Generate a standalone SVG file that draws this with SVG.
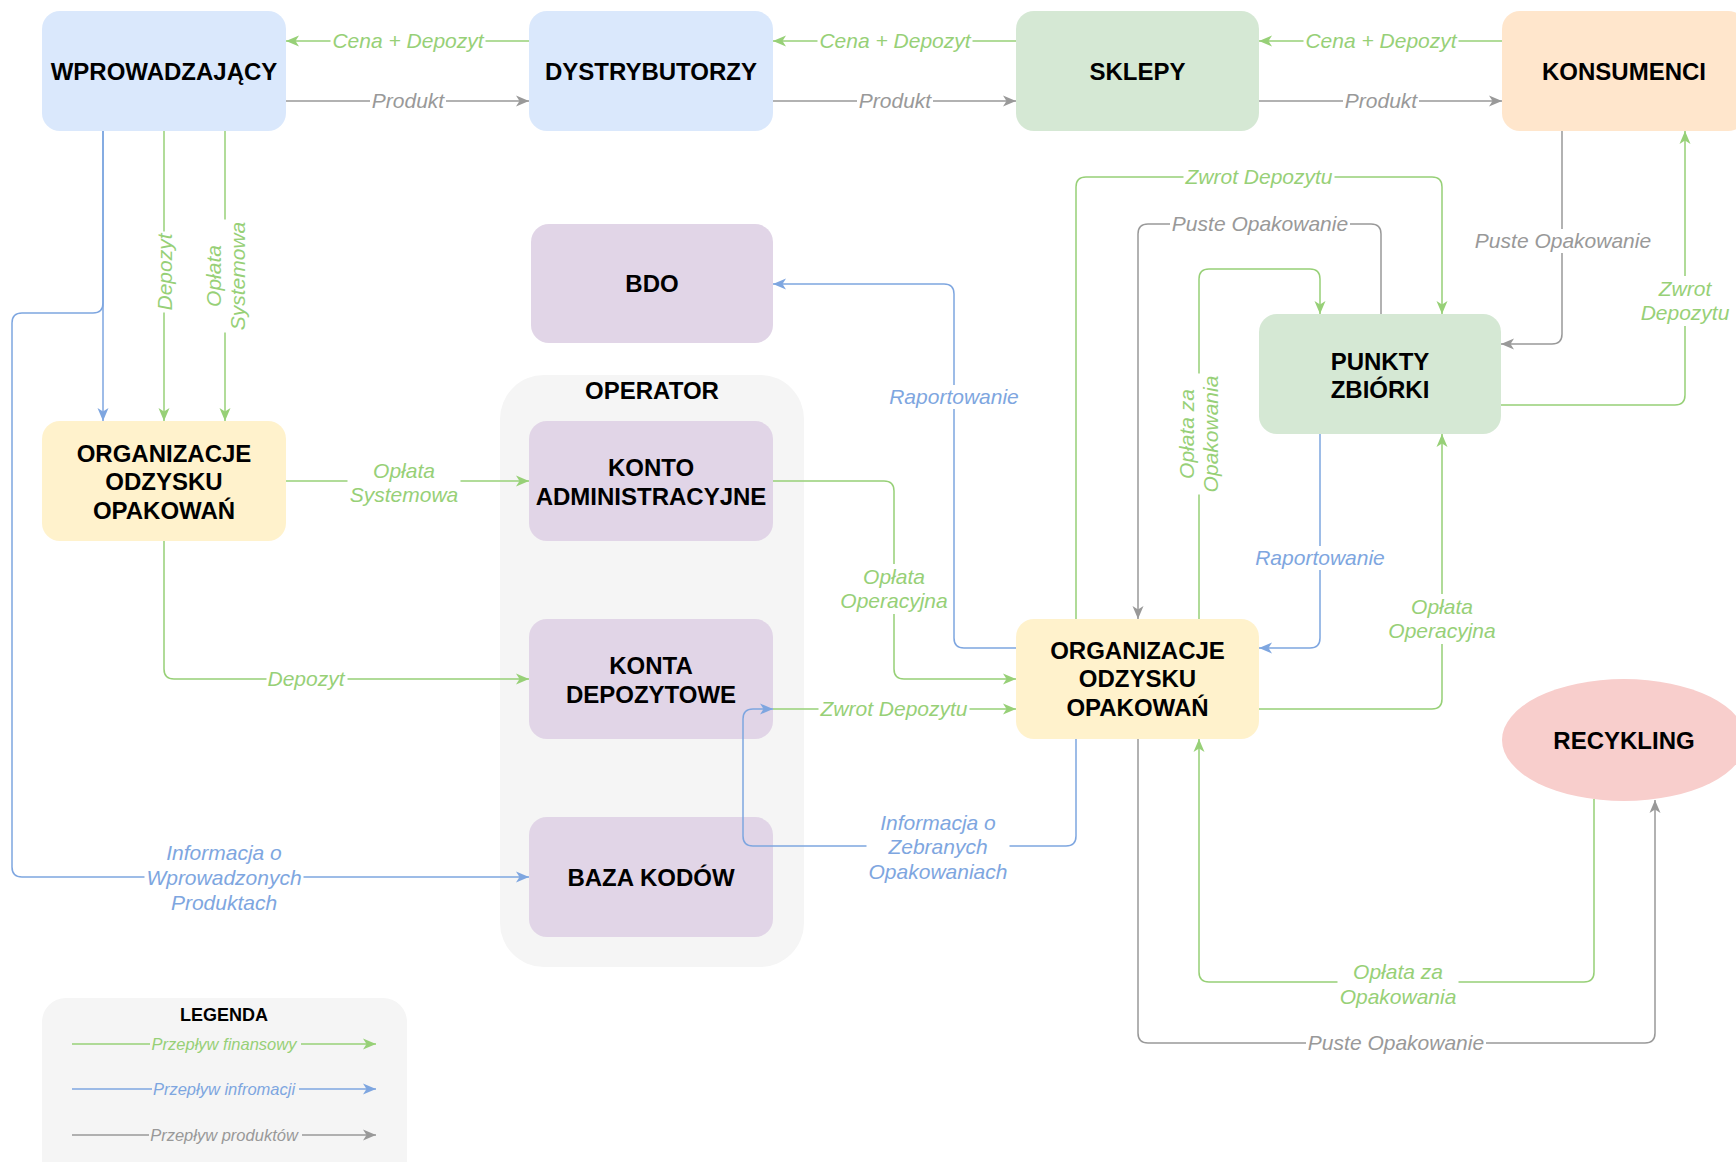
<svg xmlns="http://www.w3.org/2000/svg" width="1736" height="1162" viewBox="0 0 1736 1162">
<style>
.nt{font-family:"Liberation Sans",Arial,Helvetica,sans-serif;font-weight:bold;font-size:24px;fill:#000;text-anchor:middle}
.lt{font-family:"Liberation Sans",Arial,Helvetica,sans-serif;font-style:italic;font-size:21px;text-anchor:middle}
.gt{fill:#97D077}.bt{fill:#7EA6E0}.kt{fill:#999999}
.e{fill:none;stroke-width:1.5}
.ge{stroke:#97D077}.be{stroke:#7EA6E0}.ke{stroke:#999999}
.bg{fill:#ffffff}
.blue{fill:#dae8fc}.green{fill:#d5e8d4}.orange{fill:#ffe6cc}.yellow{fill:#fff2cc}.purple{fill:#e1d5e7}.red{fill:#f8cecc}.grey{fill:#f5f5f5}
.leg{font-family:"Liberation Sans",Arial,Helvetica,sans-serif;font-style:italic;font-size:16.5px;text-anchor:middle}
</style>
<defs>
<marker id="ag" viewBox="0 0 14 12" refX="13" refY="6" markerWidth="14" markerHeight="12" markerUnits="userSpaceOnUse" orient="auto"><path d="M0,0.5 L13,6 L0,11.5 L3.5,6 Z" fill="#97D077"/></marker>
<marker id="ab" viewBox="0 0 14 12" refX="13" refY="6" markerWidth="14" markerHeight="12" markerUnits="userSpaceOnUse" orient="auto"><path d="M0,0.5 L13,6 L0,11.5 L3.5,6 Z" fill="#7EA6E0"/></marker>
<marker id="ak" viewBox="0 0 14 12" refX="13" refY="6" markerWidth="14" markerHeight="12" markerUnits="userSpaceOnUse" orient="auto"><path d="M0,0.5 L13,6 L0,11.5 L3.5,6 Z" fill="#999999"/></marker>
</defs>
<rect width="1736" height="1162" fill="#ffffff"/>

<g id="operator">
<rect class="grey" x="500" y="375" width="304" height="592" rx="44"/>
<text class="nt" x="652" y="398.5">OPERATOR</text>
</g>

<g id="legend">
<rect class="grey" x="42" y="998" width="365" height="190" rx="24"/>
<text class="nt" style="font-size:18px" x="224" y="1020.5">LEGENDA</text>
<path class="e ge" d="M72,1044 H376" marker-end="url(#ag)"/>
<path class="e be" d="M72,1089 H376" marker-end="url(#ab)"/>
<path class="e ke" d="M72,1135 H376" marker-end="url(#ak)"/>
<rect class="grey" x="150" y="1034" width="151" height="20"/>
<rect class="grey" x="152" y="1079" width="147" height="20"/>
<rect class="grey" x="149" y="1125" width="153" height="20"/>
<text class="leg gt" x="224" y="1050">Przepływ finansowy</text>
<text class="leg bt" x="224" y="1095">Przepływ infromacji</text>
<text class="leg kt" x="224" y="1141">Przepływ produktów</text>
</g>

<g id="wprowadzajacy"><rect class="blue" x="42" y="11" width="244" height="120" rx="18"/><text class="nt" x="164" y="79.5">WPROWADZAJĄCY</text></g>
<g id="dystrybutorzy"><rect class="blue" x="529" y="11" width="244" height="120" rx="18"/><text class="nt" x="651" y="79.5">DYSTRYBUTORZY</text></g>
<g id="sklepy"><rect class="green" x="1016" y="11" width="243" height="120" rx="18"/><text class="nt" x="1137.5" y="79.5">SKLEPY</text></g>
<g id="konsumenci"><rect class="orange" x="1502" y="11" width="244" height="120" rx="18"/><text class="nt" x="1624" y="79.5">KONSUMENCI</text></g>
<g id="bdo"><rect class="purple" x="531" y="224" width="242" height="119" rx="18"/><text class="nt" x="652" y="292">BDO</text></g>
<g id="konto-administracyjne"><rect class="purple" x="529" y="421" width="244" height="120" rx="18"/><text class="nt" x="651" y="475.5">KONTO</text><text class="nt" x="651" y="504.5">ADMINISTRACYJNE</text></g>
<g id="konta-depozytowe"><rect class="purple" x="529" y="619" width="244" height="120" rx="18"/><text class="nt" x="651" y="673.5">KONTA</text><text class="nt" x="651" y="702.5">DEPOZYTOWE</text></g>
<g id="baza-kodow"><rect class="purple" x="529" y="817" width="244" height="120" rx="18"/><text class="nt" x="651" y="885.5">BAZA KODÓW</text></g>
<g id="organizacje-lewe"><rect class="yellow" x="42" y="421" width="244" height="120" rx="18"/><text class="nt" x="164" y="461.5">ORGANIZACJE</text><text class="nt" x="164" y="490">ODZYSKU</text><text class="nt" x="164" y="518.5">OPAKOWAŃ</text></g>
<g id="organizacje-prawe"><rect class="yellow" x="1016" y="619" width="243" height="120" rx="18"/><text class="nt" x="1137.5" y="658.5">ORGANIZACJE</text><text class="nt" x="1137.5" y="687">ODZYSKU</text><text class="nt" x="1137.5" y="715.5">OPAKOWAŃ</text></g>
<g id="punkty-zbiorki"><rect class="green" x="1259" y="314" width="242" height="120" rx="18"/><text class="nt" x="1380" y="369.5">PUNKTY</text><text class="nt" x="1380" y="397.5">ZBIÓRKI</text></g>
<g id="recykling"><ellipse class="red" cx="1624" cy="740" rx="122" ry="61"/><text class="nt" x="1624" y="748.5">RECYKLING</text></g>

<g id="connectors">
<path class="e ge" d="M529,41 H286" marker-end="url(#ag)"/>
<path class="e ke" d="M286,101 H529" marker-end="url(#ak)"/>
<path class="e ge" d="M1016,41 H773" marker-end="url(#ag)"/>
<path class="e ke" d="M773,101 H1016" marker-end="url(#ak)"/>
<path class="e ge" d="M1502,41 H1259" marker-end="url(#ag)"/>
<path class="e ke" d="M1259,101 H1502" marker-end="url(#ak)"/>
<path class="e be" d="M103,131 V421" marker-end="url(#ab)"/>
<path class="e be" d="M103,131 V303 Q103,313 93,313 H22 Q12,313 12,323 V867 Q12,877 22,877 H529" marker-end="url(#ab)"/>
<path class="e ge" d="M164,131 V421" marker-end="url(#ag)"/>
<path class="e ge" d="M225,131 V421" marker-end="url(#ag)"/>
<path class="e ge" d="M286,481 H529" marker-end="url(#ag)"/>
<path class="e ge" d="M164,541 V669 Q164,679 174,679 H529" marker-end="url(#ag)"/>
<path class="e ge" d="M773,481 H884 Q894,481 894,491 V669 Q894,679 904,679 H1016" marker-end="url(#ag)"/>
<path class="e ge" d="M773,709 H1016" marker-end="url(#ag)"/>
<path class="e be" d="M1076,739 V836 Q1076,846 1066,846 H753 Q743,846 743,836 V719 Q743,709 753,709 H773" marker-end="url(#ab)"/>
<path class="e be" d="M1016,648 H964 Q954,648 954,638 V294 Q954,284 944,284 H773" marker-end="url(#ab)"/>
<path class="e ke" d="M1562,131 V334 Q1562,344 1552,344 H1501" marker-end="url(#ak)"/>
<path class="e ge" d="M1501,405 H1675 Q1685,405 1685,395 V131" marker-end="url(#ag)"/>
<path class="e ge" d="M1076,619 V187 Q1076,177 1086,177 H1432 Q1442,177 1442,187 V314" marker-end="url(#ag)"/>
<path class="e ke" d="M1381,314 V234 Q1381,224 1371,224 H1148 Q1138,224 1138,234 V619" marker-end="url(#ak)"/>
<path class="e ge" d="M1199,619 V279 Q1199,269 1209,269 H1310 Q1320,269 1320,279 V314" marker-end="url(#ag)"/>
<path class="e be" d="M1320,434 V638 Q1320,648 1310,648 H1259" marker-end="url(#ab)"/>
<path class="e ge" d="M1259,709 H1432 Q1442,709 1442,699 V434" marker-end="url(#ag)"/>
<path class="e ge" d="M1594,799 V972 Q1594,982 1584,982 H1209 Q1199,982 1199,972 V739" marker-end="url(#ag)"/>
<path class="e ke" d="M1138,739 V1033 Q1138,1043 1148,1043 H1645 Q1655,1043 1655,1033 V800" marker-end="url(#ak)"/>
</g>

<g id="connector-labels">
<rect class="bg" x="330.5" y="29" width="155" height="24"/><text class="lt gt" x="408" y="48">Cena + Depozyt</text>
<rect class="bg" x="370" y="89" width="76" height="24"/><text class="lt kt" x="408" y="108">Produkt</text>
<rect class="bg" x="817.5" y="29" width="155" height="24"/><text class="lt gt" x="895" y="48">Cena + Depozyt</text>
<rect class="bg" x="857" y="89" width="76" height="24"/><text class="lt kt" x="895" y="108">Produkt</text>
<rect class="bg" x="1303.5" y="29" width="155" height="24"/><text class="lt gt" x="1381" y="48">Cena + Depozyt</text>
<rect class="bg" x="1343" y="89" width="76" height="24"/><text class="lt kt" x="1381" y="108">Produkt</text>
<rect class="bg" x="144.5" y="840" width="159" height="76"/>
<text class="lt bt" x="224" y="860">Informacja o</text>
<text class="lt bt" x="224" y="885">Wprowadzonych</text>
<text class="lt bt" x="224" y="910">Produktach</text>
<g transform="rotate(-90 165 272)"><rect class="bg" x="124.5" y="260" width="81" height="24"/><text class="lt gt" x="165" y="279">Depozyt</text></g>
<g transform="rotate(-90 226 276)"><rect class="bg" x="169.5" y="251" width="113" height="50"/><text class="lt gt" x="226" y="271">Opłata</text><text class="lt gt" x="226" y="295">Systemowa</text></g>
<rect class="bg" x="347.5" y="458" width="113" height="50"/><text class="lt gt" x="404" y="478">Opłata</text><text class="lt gt" x="404" y="502">Systemowa</text>
<rect class="bg" x="266.5" y="667" width="81" height="24"/><text class="lt gt" x="306" y="686">Depozyt</text>
<rect class="bg" x="838.5" y="564" width="111" height="50"/><text class="lt gt" x="894" y="584">Opłata</text><text class="lt gt" x="894" y="608">Operacyjna</text>
<rect class="bg" x="818.5" y="697" width="151" height="24"/><text class="lt gt" x="894" y="716">Zwrot Depozytu</text>
<rect class="bg" x="866.5" y="810" width="143" height="75"/>
<text class="lt bt" x="938" y="830">Informacja o</text>
<text class="lt bt" x="938" y="854">Zebranych</text>
<text class="lt bt" x="938" y="879">Opakowaniach</text>
<rect class="bg" x="887" y="385" width="134" height="24"/><text class="lt bt" x="954" y="404">Raportowanie</text>
<rect class="bg" x="1473" y="229" width="180" height="24"/><text class="lt kt" x="1563" y="248">Puste Opakowanie</text>
<rect class="bg" x="1638.5" y="276" width="93" height="50"/><text class="lt gt" x="1685" y="296">Zwrot</text><text class="lt gt" x="1685" y="320">Depozytu</text>
<rect class="bg" x="1183.5" y="165" width="151" height="24"/><text class="lt gt" x="1259" y="184">Zwrot Depozytu</text>
<rect class="bg" x="1170" y="212" width="180" height="24"/><text class="lt kt" x="1260" y="231">Puste Opakowanie</text>
<g transform="rotate(-90 1199 434)"><rect class="bg" x="1138.5" y="409" width="121" height="50"/><text class="lt gt" x="1199" y="429">Opłata za</text><text class="lt gt" x="1199" y="453">Opakowania</text></g>
<rect class="bg" x="1253" y="546" width="134" height="24"/><text class="lt bt" x="1320" y="565">Raportowanie</text>
<rect class="bg" x="1386.5" y="594" width="111" height="50"/><text class="lt gt" x="1442" y="614">Opłata</text><text class="lt gt" x="1442" y="638">Operacyjna</text>
<rect class="bg" x="1337.5" y="959" width="121" height="50"/><text class="lt gt" x="1398" y="979">Opłata za</text><text class="lt gt" x="1398" y="1004">Opakowania</text>
<rect class="bg" x="1306" y="1031" width="180" height="24"/><text class="lt kt" x="1396" y="1050">Puste Opakowanie</text>
</g>
</svg>
